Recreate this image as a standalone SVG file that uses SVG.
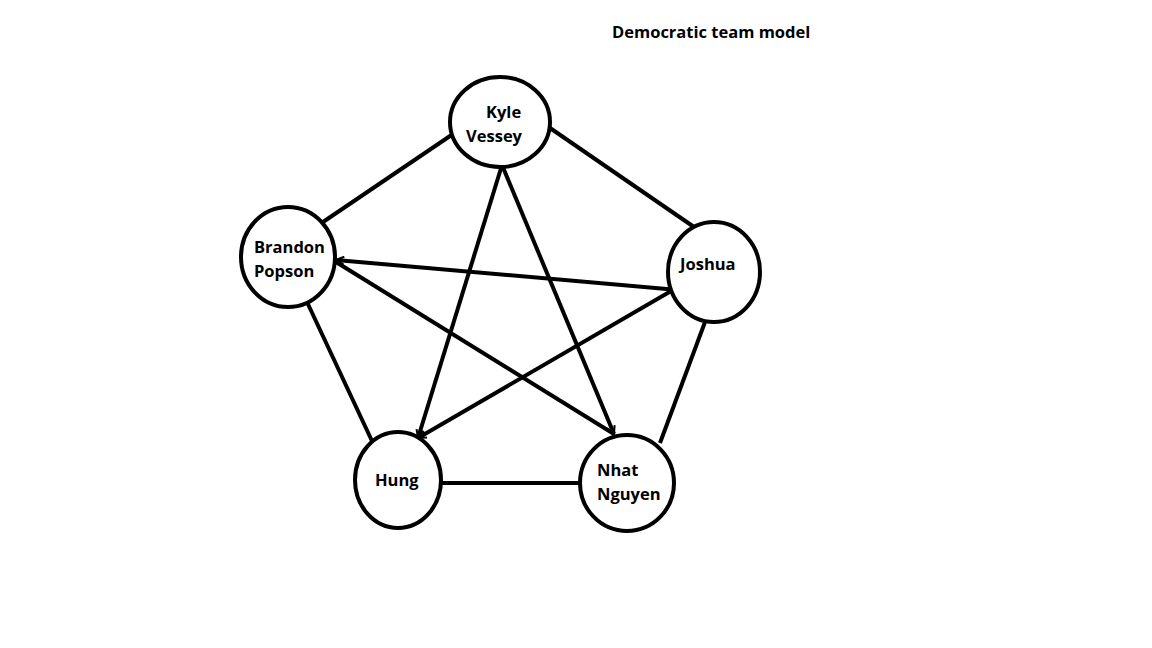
<svg xmlns="http://www.w3.org/2000/svg" width="1152" height="648" viewBox="0 0 1152 648">
<style>
.n{fill:#fff;stroke:#000;stroke-width:4}
.t{font-family:"Open Sans",Lato,sans-serif;font-weight:bold;font-size:16.5px;fill:#000}
.e{stroke:#000;stroke-width:4;fill:none;stroke-linecap:butt}
</style>
<defs>
<marker id="a" viewBox="0 0 10 10" refX="9" refY="5" markerWidth="2.5" markerHeight="2.5" orient="auto" markerUnits="strokeWidth">
<path d="M1,1 L9,5 L1,9" fill="none" stroke="#000" stroke-width="2"/>
</marker>
</defs>
<rect width="1152" height="648" fill="#fff"/>
<text class="t" x="612" y="38">Democratic team model</text>
<g id="connectors">
<line class="e" x1="453" y1="134" x2="323" y2="222"/>
<line class="e" x1="550" y1="128" x2="694" y2="227"/>
<line class="e" x1="307" y1="302" x2="372" y2="441"/>
<line class="e" x1="705" y1="322" x2="660" y2="443"/>
<line class="e" x1="442" y1="483" x2="580" y2="483"/>
<line class="e" x1="502" y1="165" x2="418" y2="438" marker-end="url(#a)"/>
<line class="e" x1="502" y1="165" x2="614" y2="434" marker-end="url(#a)"/>
<line class="e" x1="678" y1="290" x2="336" y2="260" marker-end="url(#a)"/>
<line class="e" x1="336" y1="262" x2="614" y2="434"/>
<line class="e" x1="678" y1="287" x2="418" y2="438" marker-end="url(#a)"/>
</g>
<g id="kyle"><ellipse class="n" cx="500" cy="122" rx="50" ry="45"/><text class="t" x="486" y="118">Kyle</text><text class="t" x="466" y="142">Vessey</text></g>
<g id="brandon"><ellipse class="n" cx="288" cy="257" rx="47" ry="50"/><text class="t" x="254" y="253">Brandon</text><text class="t" x="254" y="277">Popson</text></g>
<g id="joshua"><ellipse class="n" cx="714" cy="272" rx="46" ry="50"/><text class="t" x="680" y="270">Joshua</text></g>
<g id="hung"><ellipse class="n" cx="398" cy="480" rx="43" ry="48"/><text class="t" x="375" y="486">Hung</text></g>
<g id="nhat"><ellipse class="n" cx="627" cy="483" rx="47" ry="48"/><text class="t" x="597" y="476">Nhat</text><text class="t" x="597" y="500">Nguyen</text></g>
</svg>
